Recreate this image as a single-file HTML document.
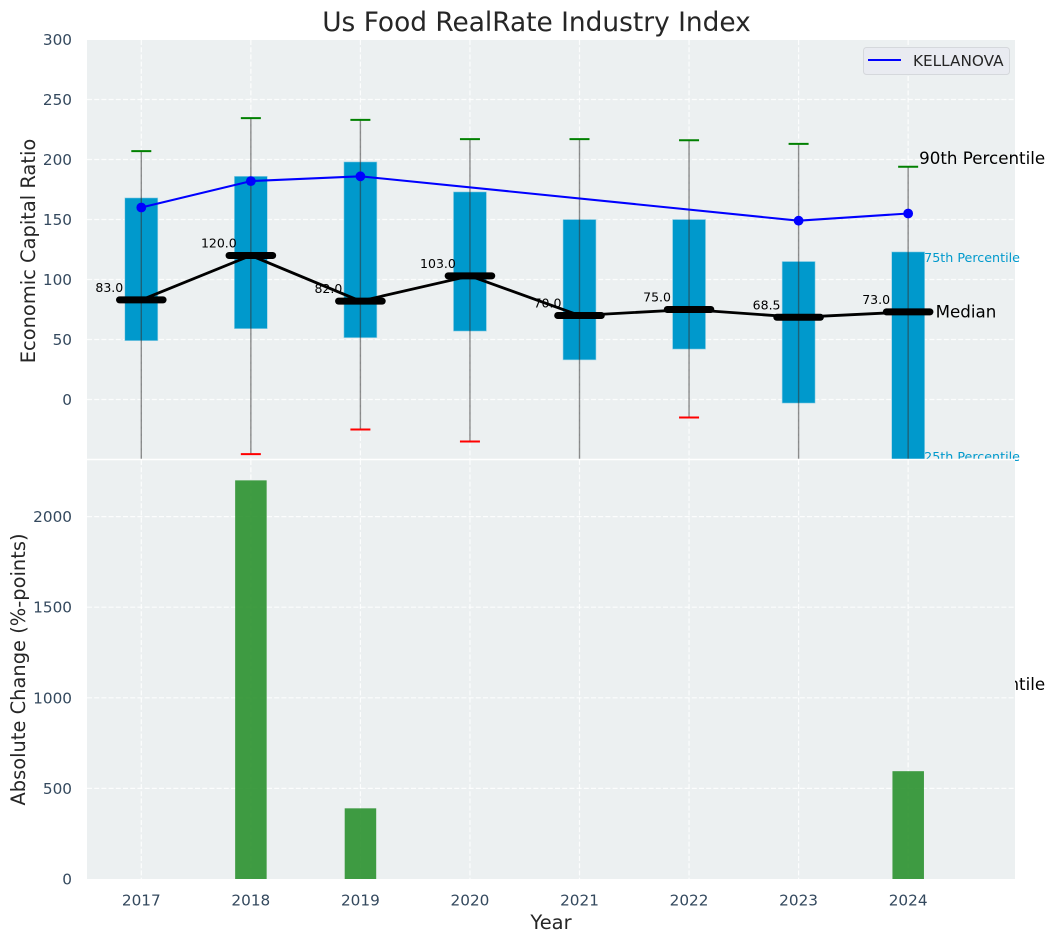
<!DOCTYPE html>
<html>
<head>
<meta charset="utf-8">
<title>Us Food RealRate Industry Index</title>
<style>
html,body{margin:0;padding:0;background:#fff;width:1054px;height:942px;overflow:hidden}
svg{display:block;font-family:"DejaVu Sans","Liberation Sans",sans-serif}
</style>
</head>
<body>
<svg id="chart" width="1054" height="942" viewBox="0 0 1054 942" xmlns="http://www.w3.org/2000/svg">
<defs>
<clipPath id="clipTop"><rect x="87" y="40" width="928" height="419"/></clipPath>
<clipPath id="clipBottom"><rect x="87" y="460" width="928" height="419"/></clipPath>
</defs>
<text x="536.5" y="31" text-anchor="middle" font-size="26.4" fill="#262626">Us Food RealRate Industry Index</text>
<text transform="translate(35,251) rotate(-90)" text-anchor="middle" font-size="19.45" fill="#262626">Economic Capital Ratio</text>
<text transform="translate(25,669.5) rotate(-90)" text-anchor="middle" font-size="19.45" fill="#262626">Absolute Change (%-points)</text>
<text x="551" y="929" text-anchor="middle" font-size="19.45" fill="#262626">Year</text>
<g id="top"></g>
<g id="bottom"></g>
<g id="labels"></g>
</svg>
<script>
const years = [2017, 2018, 2019, 2020, 2021, 2022, 2023, 2024];
const medians = [83, 120, 82, 103, 70, 75, 68.5, 73];
const q1 = [49, 59, 51.5, 57, 33, 42, -3, -60];
const q3 = [168, 186, 198, 173, 150, 150, 115, 123];
const p90 = [207, 234.5, 233, 217, 217, 216, 213, 194];
const p10 = [-80, -45.5, -25, -35, -60, -15, -70, -240];
const companyValues = [160, 182, 186, null, null, null, 149, 155];
const changes = [0, 2200, 390, 0, 0, 0, 0, 595];
const topTicks = [0, 50, 100, 150, 200, 250, 300];
const bottomTicks = [0, 500, 1000, 1500, 2000];
const seriesName = 'KELLANOVA';

const NS = 'http://www.w3.org/2000/svg';
function x(year) { return 141.3 + (year - 2017) * 109.55; }
function yTop(v) { return 399.5 - v * 1.2; }
function yBottom(v) { return 879 - v * 0.1812; }
function mk(parent, tag, attrs, text) {
  const el = document.createElementNS(NS, tag);
  for (const k in attrs) el.setAttribute(k, attrs[k]);
  if (text !== undefined) el.textContent = text;
  parent.appendChild(el);
  return el;
}
const top_ = document.getElementById('top');
const bottom_ = document.getElementById('bottom');
const labels = document.getElementById('labels');
const GRID = {stroke: '#fff', 'stroke-width': 1.2, 'stroke-dasharray': '5,2.2', 'stroke-opacity': 0.85};

/* top panel background */
const topBg = mk(top_, 'rect', {x: 87, y: 40, width: 928, height: 419.5, fill: '#ecf0f1'});



topTicks.forEach(function (t) {
  if (t === 300) return;
  const g = mk(top_, 'line', Object.assign({x1: 87, x2: 1015, y1: yTop(t), y2: yTop(t)}, GRID));
  
  
});
years.forEach(function (yr) {
  const g = mk(top_, 'line', Object.assign({x1: x(yr), x2: x(yr), y1: 40, y2: 459}, GRID));
  
  
});

const plot = mk(top_, 'g', {'clip-path': 'url(#clipTop)'});



/* boxes */
years.forEach(function (yr, i) {
  const r = mk(plot, 'rect', {
    x: x(yr) - 16.5, width: 33,
    y: yTop(q3[i]), height: yTop(q1[i]) - yTop(q3[i]),
    fill: '#0099cc', stroke: '#9fd4e6', 'stroke-width': 0.6
  });
  
  
});
/* whiskers */
years.forEach(function (yr, i) {
  const w = mk(plot, 'line', {
    x1: x(yr), x2: x(yr), y1: yTop(p90[i]), y2: yTop(p10[i]),
    stroke: '#333', 'stroke-opacity': 0.55, 'stroke-width': 1.4
  });
  
  
  const hi = mk(plot, 'line', {
    x1: x(yr) - 10, x2: x(yr) + 10, y1: yTop(p90[i]), y2: yTop(p90[i]),
    stroke: '#008000', 'stroke-width': 2
  });
  
  
  const lo = mk(plot, 'line', {
    x1: x(yr) - 10, x2: x(yr) + 10, y1: yTop(p10[i]), y2: yTop(p10[i]),
    stroke: '#ff0000', 'stroke-width': 2
  });
  
  
});
/* company series */
const companyPts = years.map(function (yr, i) {
  return companyValues[i] === null ? null : x(yr) + ',' + yTop(companyValues[i]);
}).filter(Boolean).join(' ');
const compLine = mk(plot, 'polyline', {points: companyPts, fill: 'none', stroke: '#0000ff', 'stroke-width': 2.08});


years.forEach(function (yr, i) {
  if (companyValues[i] === null) return;
  const c = mk(plot, 'circle', {cx: x(yr), cy: yTop(companyValues[i]), r: 4.9, fill: '#0000ff'});
  
  
});
/* median */
const medPts = years.map(function (yr, i) { return x(yr) + ',' + yTop(medians[i]); }).join(' ');
const medLine = mk(plot, 'polyline', {points: medPts, fill: 'none', stroke: '#000', 'stroke-width': 2.8});


years.forEach(function (yr, i) {
  const m = mk(plot, 'line', {
    x1: x(yr) - 21.8, x2: x(yr) + 21.8, y1: yTop(medians[i]), y2: yTop(medians[i]),
    stroke: '#000', 'stroke-width': 7, 'stroke-linecap': 'round'
  });
  
  
  const t = mk(top_, 'text', {
    x: x(yr) - 32, y: yTop(medians[i]) - 8, 'text-anchor': 'middle', 'font-size': 12.5, fill: '#000'
  }, medians[i].toFixed(1));
  
  
});

/* annotations anchored on the last year */
const last = years.length - 1;
const lastX = x(years[last]);
const a90 = mk(top_, 'text', {x: lastX + 11, y: yTop(p90[last]) - 2.5, 'font-size': 16.7, fill: '#000'}, '90th Percentile');


const a75 = mk(top_, 'text', {x: lastX + 16, y: yTop(q3[last]) + 10, 'font-size': 12.7, fill: '#0099cc'}, '75th Percentile');


const aMed = mk(top_, 'text', {x: lastX + 27.5, y: yTop(medians[last]) + 5.5, 'font-size': 16.7, fill: '#000'}, 'Median');


const a25 = mk(top_, 'text', {x: lastX + 16, y: 461, 'font-size': 12.7, fill: '#0099cc'}, '25th Percentile');


const a10 = mk(top_, 'text', {x: lastX + 11, y: 690, 'font-size': 16.7, fill: '#000'}, '10th Percentile');



/* legend */
const legend = mk(top_, 'g', {});


mk(legend, 'rect', {x: 863.5, y: 47.5, width: 146, height: 27, rx: 3, fill: '#e9ebf1', stroke: '#d5d8dc', 'stroke-width': 1});
mk(legend, 'line', {x1: 868, x2: 901, y1: 60, y2: 60, stroke: '#0000ff', 'stroke-width': 2.08});
mk(legend, 'text', {x: 913, y: 66, 'font-size': 15.28, fill: '#262626'}, seriesName);

/* bottom panel */
const botBg = mk(bottom_, 'rect', {x: 87, y: 460, width: 928, height: 419, fill: '#ecf0f1'});


bottomTicks.forEach(function (t) {
  if (t === 0) return;
  const g = mk(bottom_, 'line', Object.assign({x1: 87, x2: 1015, y1: yBottom(t), y2: yBottom(t)}, GRID));
  
  
});
years.forEach(function (yr) {
  const g = mk(bottom_, 'line', Object.assign({x1: x(yr), x2: x(yr), y1: 460, y2: 879}, GRID));
  
  
});
const bars = mk(bottom_, 'g', {'clip-path': 'url(#clipBottom)'});


years.forEach(function (yr, i) {
  if (!changes[i]) return;
  const b = mk(bars, 'rect', {
    x: x(yr) - 15.7, width: 31.5, y: yBottom(changes[i]), height: 879 - yBottom(changes[i]),
    fill: '#258e29', 'fill-opacity': 0.88
  });
  
  
});
const sep = mk(bottom_, 'line', {x1: 87, x2: 1015, y1: 459.5, y2: 459.5, stroke: '#fff', 'stroke-width': 1.6});



/* tick labels */
const TICK = {'font-size': 15.28, fill: '#34495e'};
topTicks.forEach(function (t) {
  const l = mk(labels, 'text', Object.assign({x: 72, y: yTop(t) + 5.5, 'text-anchor': 'end'}, TICK), String(t));
  
  
});
bottomTicks.forEach(function (t) {
  const l = mk(labels, 'text', Object.assign({x: 72, y: yBottom(t) + 5.5, 'text-anchor': 'end'}, TICK), String(t));
  
  
});
years.forEach(function (yr) {
  const l = mk(labels, 'text', Object.assign({x: x(yr), y: 905.5, 'text-anchor': 'middle'}, TICK), String(yr));
  
  
});
</script>
</body>
</html>
